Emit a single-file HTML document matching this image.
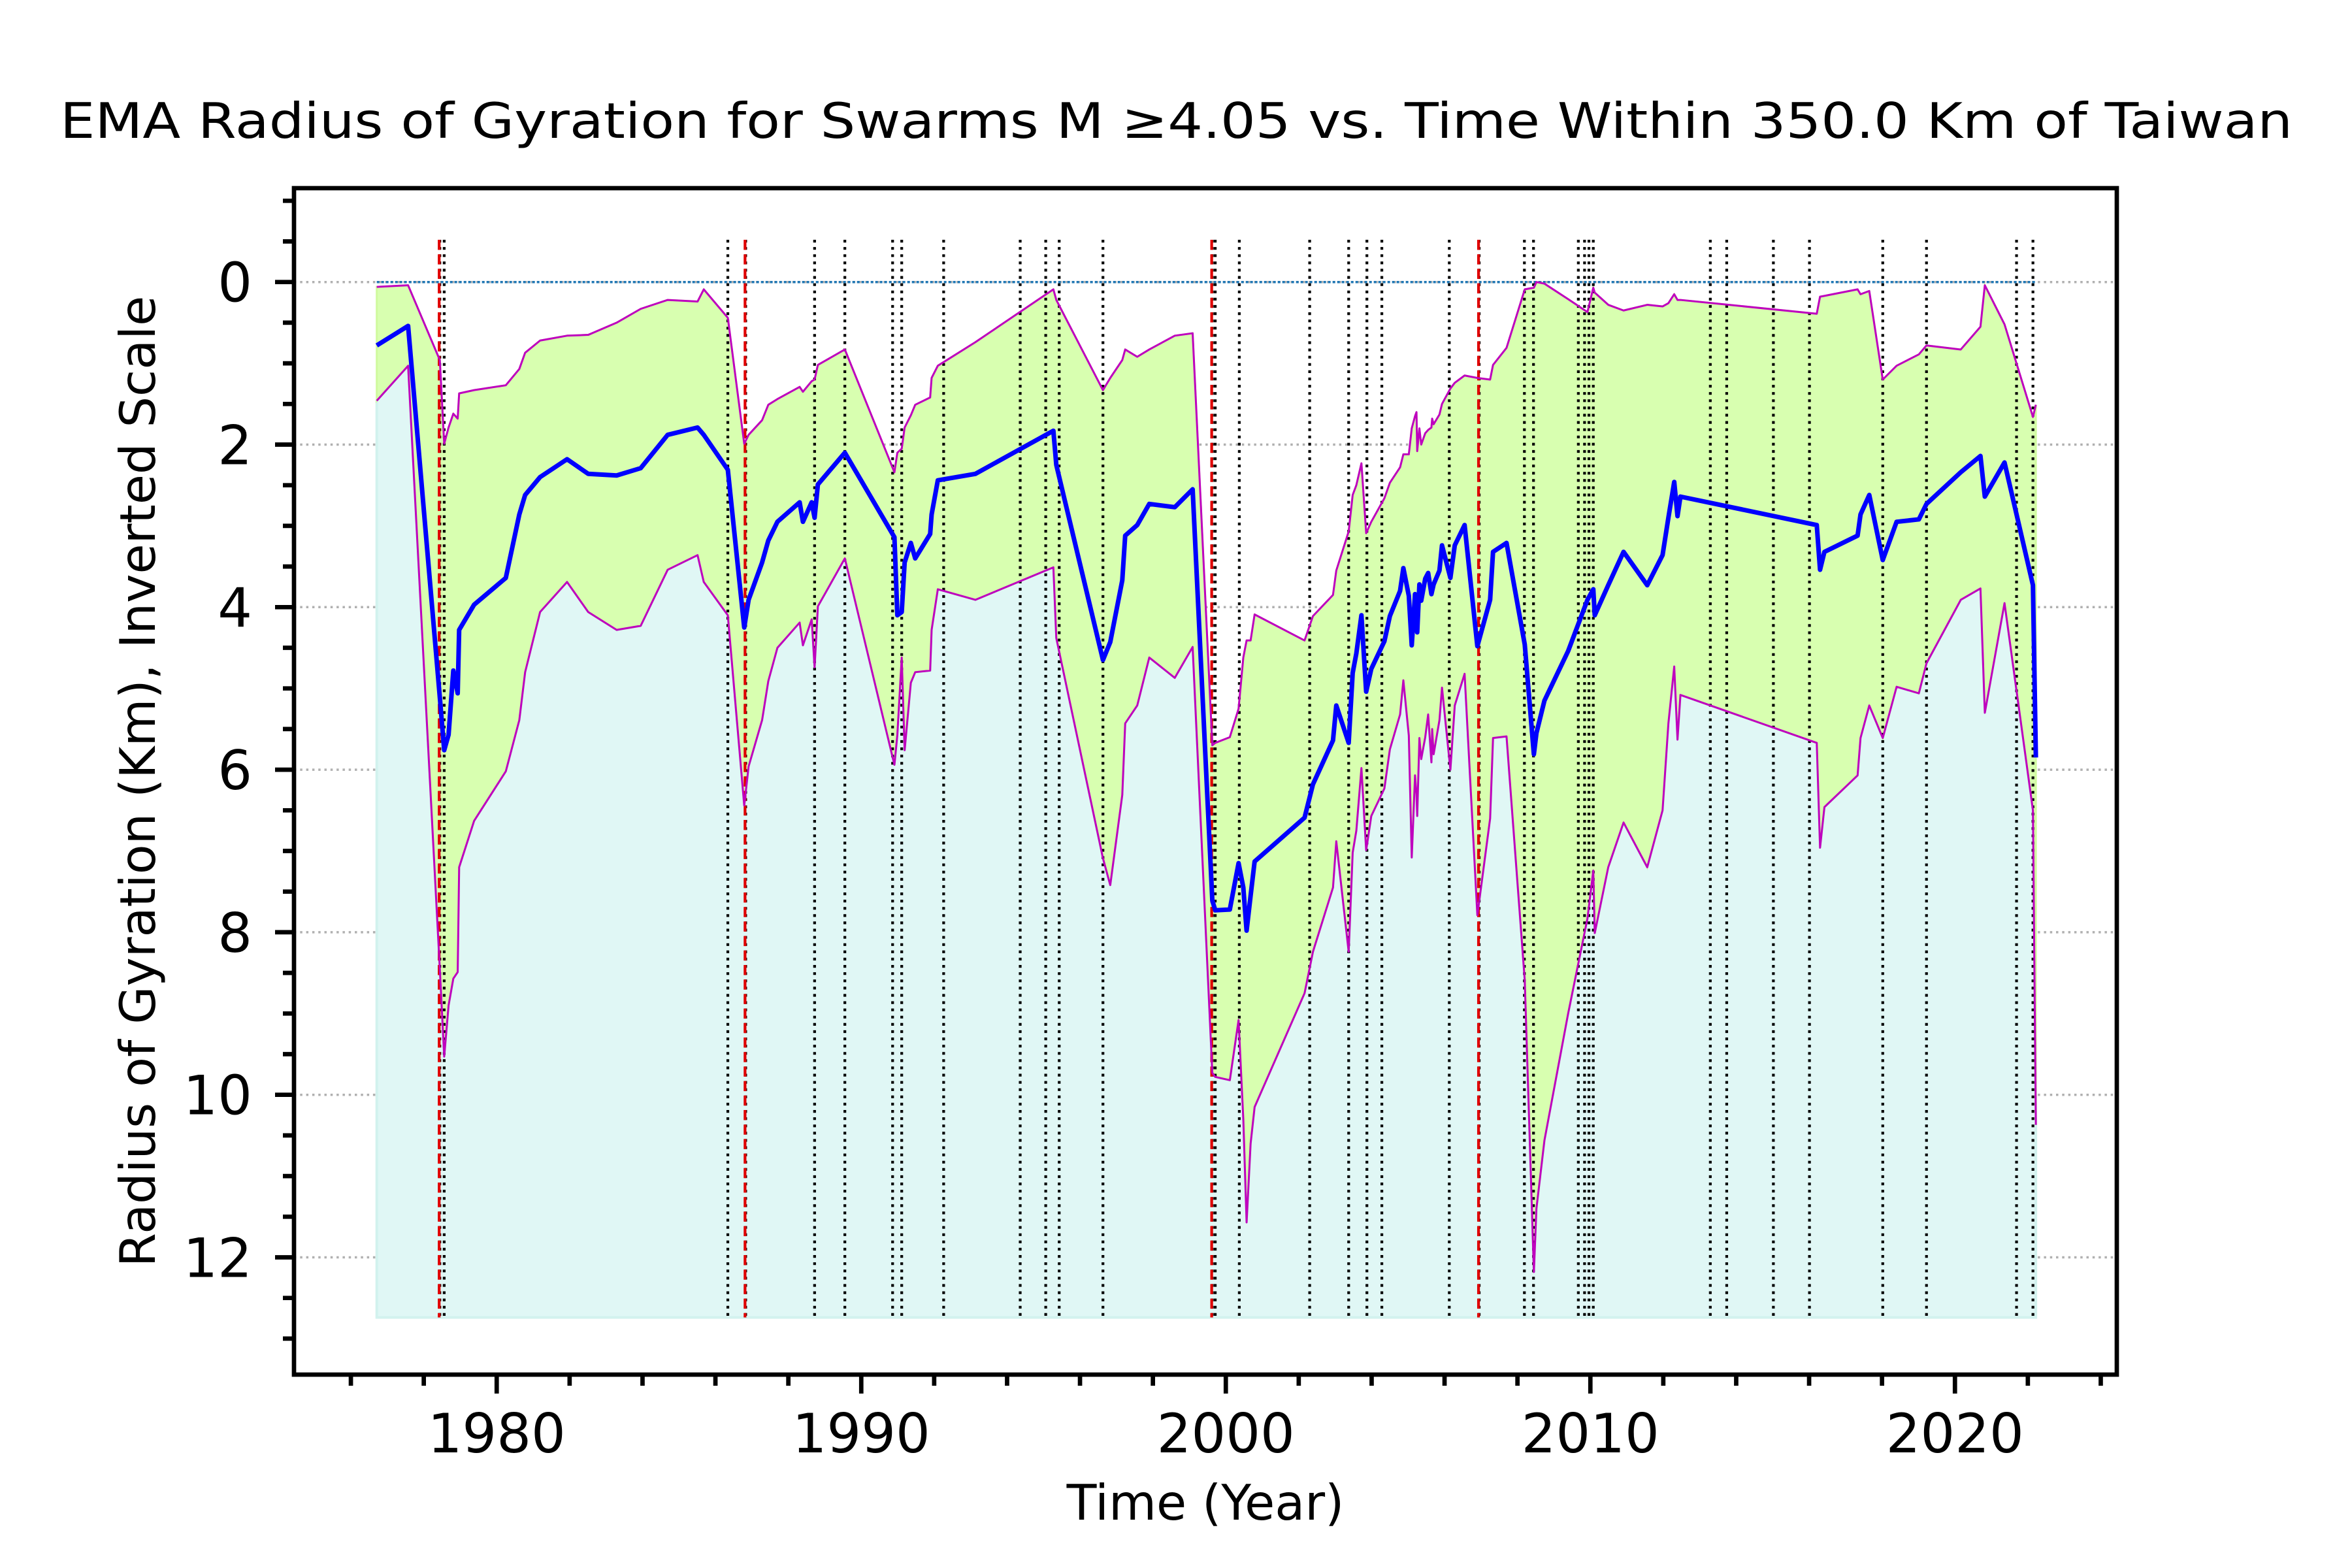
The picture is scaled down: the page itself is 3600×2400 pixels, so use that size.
<!DOCTYPE html>
<html><head><meta charset="utf-8"><style>
html,body{margin:0;padding:0;background:#fff}
svg{display:block;font-family:"DejaVu Sans","Liberation Sans",sans-serif}
</style></head><body>
<svg id="chart" width="3600" height="2400" viewBox="0 0 3600 2400" xmlns="http://www.w3.org/2000/svg">
<rect width="3600" height="2400" fill="#fff"/>
<text x="92" y="211" font-size="75" textLength="3417" lengthAdjust="spacingAndGlyphs">EMA Radius of Gyration for Swarms M  ≥4.05 vs. Time Within 350.0 Km of Taiwan</text>
<g id="plot"></g>
<text x="1845" y="2326" font-size="75" text-anchor="middle">Time (Year)</text>
<text transform="translate(237,1196) rotate(-90)" font-size="75" text-anchor="middle">Radius of Gyration (Km), Inverted Scale</text>
</svg>
<script>
const years=[1976.71,1977.57,1978.44,1978.56,1978.68,1978.81,1978.93,1978.97,1979.38,1980.25,1980.62,1980.78,1981.19,1981.93,1982.51,1983.29,1983.95,1984.69,1985.51,1985.68,1986.34,1986.79,1986.91,1987.28,1987.45,1987.70,1988.31,1988.40,1988.64,1988.72,1988.81,1989.55,1990.91,1990.99,1991.11,1991.19,1991.36,1991.48,1991.89,1991.93,1992.10,1993.13,1995.27,1995.35,1996.63,1996.83,1997.16,1997.24,1997.57,1997.90,1998.60,1999.09,
1999.63,1999.71,2000.11,2000.35,2000.48,2000.57,2000.68,2000.79,2002.16,2002.39,2002.94,2003.03,2003.37,2003.48,2003.58,2003.72,2003.85,2003.99,2004.35,2004.50,2004.78,2004.87,2005.02,2005.10,2005.19,2005.23,2005.25,2005.31,2005.36,2005.47,2005.55,2005.64,2005.66,2005.70,2005.86,2005.93,2006.16,2006.28,2006.55,2006.90,2007.25,2007.33,2007.70,2008.20,2008.45,2008.52,2008.74,2009.39,
2009.92,2010.08,2010.12,2010.49,2010.91,2011.56,2011.98,2012.14,2012.30,2012.39,2012.47,2016.21,2016.30,2016.42,2017.33,2017.41,2017.65,2018.02,2018.40,2019.01,2019.22,2020.16,2020.70,2020.82,2021.36,2022.14,2022.22];
const emaRadius=[0.78,0.54,5.11,5.76,5.57,4.78,5.06,4.28,3.97,3.64,2.86,2.62,2.40,2.18,2.36,2.38,2.29,1.88,1.79,1.88,2.31,4.25,3.91,3.45,3.18,2.95,2.71,2.95,2.71,2.90,2.49,2.10,3.14,4.10,4.06,3.45,3.21,3.40,3.10,2.86,2.44,2.36,1.83,2.25,4.65,4.43,3.67,3.12,2.99,2.73,2.77,2.55,
7.61,7.73,7.72,7.15,7.45,7.98,7.55,7.13,6.59,6.18,5.64,5.21,5.67,4.81,4.57,4.10,5.04,4.76,4.42,4.11,3.80,3.52,3.86,4.47,3.84,4.05,4.31,3.72,3.92,3.65,3.58,3.84,3.80,3.72,3.55,3.24,3.64,3.24,2.99,4.48,3.91,3.32,3.21,4.46,5.81,5.55,5.15,4.54,
3.91,3.78,4.10,3.73,3.32,3.73,3.36,2.90,2.46,2.88,2.64,2.99,3.54,3.32,3.12,2.86,2.62,3.42,2.95,2.92,2.73,2.34,2.14,2.64,2.22,3.73,5.85];
const lowerBand=[1.46,1.03,8.45,9.53,8.90,8.57,8.49,7.20,6.63,6.02,5.39,4.80,4.06,3.69,4.06,4.28,4.23,3.54,3.36,3.69,4.10,6.44,5.96,5.39,4.91,4.50,4.19,4.47,4.15,4.74,3.99,3.40,5.94,5.57,4.62,5.76,4.93,4.80,4.78,4.28,3.78,3.91,3.51,4.38,7.09,7.42,6.31,5.43,5.21,4.62,4.87,4.49,
9.73,9.78,9.82,9.08,10.30,11.57,10.60,10.15,8.75,8.24,7.45,6.88,8.24,7.02,6.75,5.98,6.99,6.57,6.23,5.75,5.32,4.90,5.58,7.08,6.07,6.30,6.57,5.61,5.87,5.60,5.32,5.91,5.50,5.81,5.39,4.99,6.00,5.21,4.82,7.79,6.60,5.61,5.59,8.59,12.18,11.40,10.56,9.00,
7.83,7.24,8.01,7.20,6.65,7.20,6.50,5.43,4.73,5.63,5.08,5.67,6.96,6.46,6.07,5.61,5.21,5.61,4.98,5.06,4.69,3.91,3.77,5.30,3.95,6.50,10.37];
const upperBand=[0.06,0.04,0.96,1.99,1.79,1.62,1.68,1.37,1.33,1.27,1.07,0.87,0.72,0.66,0.65,0.50,0.33,0.22,0.24,0.09,0.44,1.99,1.88,1.70,1.51,1.44,1.29,1.35,1.22,1.20,1.02,0.83,2.34,2.10,2.05,1.79,1.64,1.51,1.42,1.18,1.03,0.74,0.09,0.22,1.33,1.18,0.96,0.83,0.92,0.83,0.66,0.63,
5.70,5.67,5.60,5.25,4.62,4.41,4.41,4.09,4.41,4.11,3.85,3.55,3.07,2.62,2.50,2.23,3.09,2.95,2.66,2.47,2.28,2.12,2.12,1.80,1.65,1.60,2.08,1.80,2.00,1.86,1.82,1.79,1.68,1.75,1.63,1.50,1.31,1.24,1.15,1.18,1.20,1.02,0.81,0.09,0.07,0.00,0.02,0.21,
0.37,0.07,0.13,0.28,0.35,0.28,0.30,0.26,0.15,0.22,0.22,0.39,0.18,0.17,0.09,0.15,0.11,1.20,1.03,0.89,0.78,0.83,0.55,0.04,0.52,1.66,1.51];
const swarmYears=[1978.44,1978.56,1986.34,1986.83,1988.72,1989.55,1990.86,1991.11,1992.26,1994.36,1995.06,1995.43,1996.63,1999.63,1999.71,2000.37,2002.30,2003.37,2003.87,2004.28,2006.13,2006.95,2008.19,2008.44,2009.67,2009.84,2009.96,2010.08,2013.29,2013.74,2015.02,2016.01,2018.02,2019.22,2021.69,2022.14];
const majorQuakeYears=[1978.44,1986.83,1999.63,2006.95];
const xTickLabels=[1980,1990,2000,2010,2020];
const yTickLabels=[0,2,4,6,8,10,12];
const fillFloor=12.74;

const L=450,R=3240,T=288,B=2104;
const xs=y=>L+(y-1974.44)*55.8;
const ys=v=>431.7+v*124.4;
const NS='http://www.w3.org/2000/svg';
const plot=document.getElementById('plot');
function mk(tag,attrs,parent){const e=document.createElementNS(NS,tag);for(const k in attrs)e.setAttribute(k,attrs[k]);(parent||plot).appendChild(e);return e;}
const clip=mk('clipPath',{id:'clipA'});
mk('rect',{x:L,y:T,width:R-L,height:B-T},clip);
const g=mk('g',{'clip-path':'url(#clipA)'});



yTickLabels.forEach(v=>{
  const l=mk('line',{x1:L,x2:R,y1:ys(v),y2:ys(v),stroke:'#b0b0b0','stroke-width':3.5,'stroke-dasharray':'3.5 5.8'},g);
  
  
});
let pc=years.map((t,i)=>xs(t)+','+ys(lowerBand[i])).join(' ');
pc+=' '+xs(years[years.length-1])+','+ys(fillFloor)+' '+xs(years[0])+','+ys(fillFloor);
const cy=mk('polygon',{points:pc,fill:'#e0f7f5',stroke:'#d2f2ee','stroke-width':4},g);


let pb=years.map((t,i)=>xs(t)+','+ys(upperBand[i])).join(' ');
for(let i=years.length-1;i>=0;i--)pb+=' '+xs(years[i])+','+ys(lowerBand[i]);
const band=mk('polygon',{points:pb,fill:'#d8ffb0',stroke:'#d0fa9f','stroke-width':3},g);


const z=mk('line',{x1:xs(years[0]),x2:xs(years[years.length-1]),y1:ys(0),y2:ys(0),stroke:'#1f77b4','stroke-width':3.5,'stroke-dasharray':'4 3'},g);


swarmYears.forEach(t=>{
  const l=mk('line',{x1:xs(t),x2:xs(t),y1:ys(-0.52),y2:ys(fillFloor),stroke:'#000','stroke-width':4.2,'stroke-dasharray':'4.2 6.9'},g);
  
  
});
majorQuakeYears.forEach(t=>{
  const l=mk('line',{x1:xs(t)-1,x2:xs(t)-1,y1:ys(-0.52),y2:ys(fillFloor),stroke:'#e00000','stroke-width':4.2,'stroke-dasharray':'15.5 6.7'},g);
  
  
});
[upperBand,lowerBand].forEach((arr,k)=>{
  const p=mk('polyline',{points:years.map((t,i)=>xs(t)+','+ys(arr[i])).join(' '),fill:'none',stroke:'#bf00bf','stroke-width':3,'stroke-linejoin':'round'},g);
  
  
});
const bl=mk('polyline',{points:years.map((t,i)=>xs(t)+','+ys(emaRadius[i])).join(' '),fill:'none',stroke:'#0000ff','stroke-width':7,'stroke-linejoin':'round'},g);



const fr=mk('rect',{x:L,y:T,width:R-L,height:B-T,fill:'none',stroke:'#000','stroke-width':6.7});


for(let v=-1;v<=13;v+=0.5){
  const maj=Number.isInteger(v/2);
  const len=maj?29:17;
  const t=mk('line',{x1:L-len,x2:L,y1:ys(v),y2:ys(v),stroke:'#000','stroke-width':6.7});
  
  
}
yTickLabels.forEach(v=>{
  const t=mk('text',{x:386,y:ys(v)+30,'font-size':83,'text-anchor':'end'});
  t.textContent=v;
  
  
});
for(let yr=1976;yr<=2024;yr+=2){
  const maj=yr%10===0;
  const len=maj?29:17;
  const t=mk('line',{x1:xs(yr),x2:xs(yr),y1:B,y2:B+len,stroke:'#000','stroke-width':6.7});
  
  
}
xTickLabels.forEach(yr=>{
  const t=mk('text',{x:xs(yr),y:2223,'font-size':83,'text-anchor':'middle'});
  t.textContent=yr;
  
  
});
</script>
</body></html>
